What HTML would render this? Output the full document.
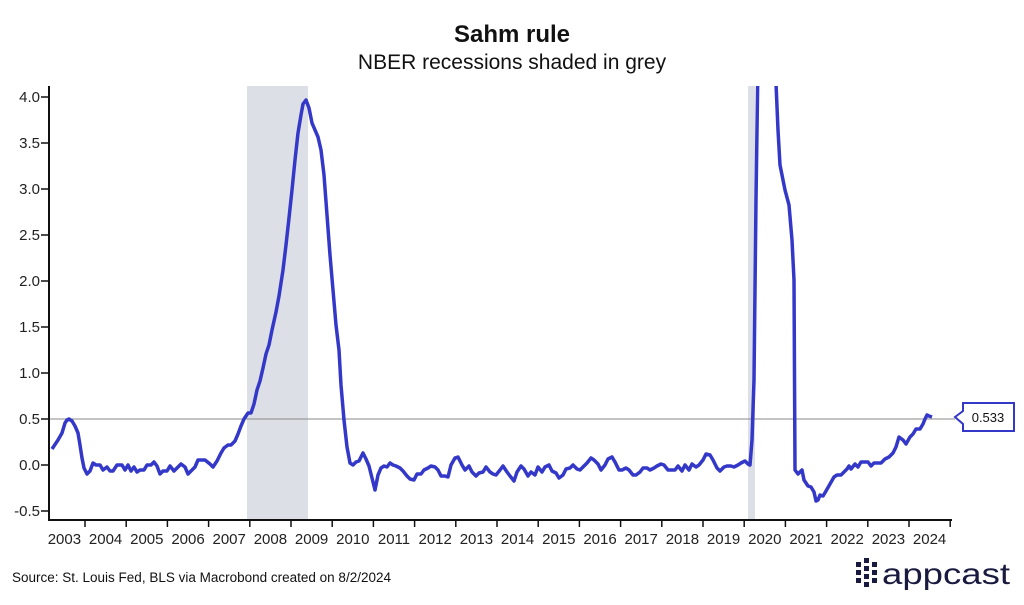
<!DOCTYPE html>
<html><head><meta charset="utf-8"><style>
body{margin:0;background:#fff;width:1024px;height:600px;overflow:hidden;font-family:"Liberation Sans",sans-serif;}
</style></head><body>
<svg width="1024" height="600" viewBox="0 0 1024 600" xmlns="http://www.w3.org/2000/svg" font-family="Liberation Sans, sans-serif">
<text x="512" y="42" text-anchor="middle" font-size="24" font-weight="bold" fill="#111">Sahm rule</text>
<text x="512" y="69" text-anchor="middle" font-size="21" fill="#111">NBER recessions shaded in grey</text>
<rect x="247" y="86" width="61" height="434" fill="#dcdfe6"/>
<rect x="748" y="86" width="7" height="434" fill="#dcdfe6"/>
<line x1="50" y1="419" x2="955" y2="419" stroke="#888" stroke-width="1"/>
<g font-size="15" fill="#222" text-anchor="end">
<text x="40" y="102">4.0</text><text x="40" y="148">3.5</text><text x="40" y="194">3.0</text><text x="40" y="240">2.5</text><text x="40" y="286">2.0</text><text x="40" y="332">1.5</text><text x="40" y="378">1.0</text><text x="40" y="424">0.5</text><text x="40" y="470">0.0</text><text x="40" y="516">-0.5</text>
</g>
<g stroke="#111" stroke-width="1.5">
<line x1="41" y1="97" x2="49" y2="97"/><line x1="41" y1="143" x2="49" y2="143"/><line x1="41" y1="189" x2="49" y2="189"/><line x1="41" y1="235" x2="49" y2="235"/><line x1="41" y1="281" x2="49" y2="281"/><line x1="41" y1="327" x2="49" y2="327"/><line x1="41" y1="373" x2="49" y2="373"/><line x1="41" y1="419" x2="49" y2="419"/><line x1="41" y1="465" x2="49" y2="465"/><line x1="41" y1="511" x2="49" y2="511"/>
</g>
<line x1="49" y1="86" x2="49" y2="521" stroke="#111" stroke-width="2"/>
<line x1="48" y1="520" x2="952" y2="520" stroke="#111" stroke-width="2"/>
<g id="ticks" stroke="#111" stroke-width="1.5"></g>
<g id="yl" font-size="15" fill="#222" text-anchor="middle"></g>
<clipPath id="c"><rect x="49" y="86" width="910" height="434"/></clipPath>
<polyline clip-path="url(#c)" fill="none" stroke="#3438c8" stroke-width="3.5" stroke-linejoin="round" points="52,449 58,440 62,433 65,423 67,420 69,419 72,421 75,426 78,433 80,445 82,458 84,468 87,474 90,471 93,463 96,465 100,465 103,470 107,467 110,471 113,471 117,465 122,465 125,470 128,465 131,471 134,467 137,472 140,470 144,470 147,465 151,465 154,462 157,466 160,474 163,471 167,471 170,466 174,471 177,468 181,464 185,467 188,474 192,470 195,467 198,460 205,460 210,464 213,467 217,461 221,453 224,448 228,445 231,445 235,441 238,434 241,426 244,419 248,413 251,413 254,404 257,390 260,381 263,368 266,354 269,345 272,330 276,312 279,296 283,270 286,245 289,218 292,190 295,160 298,133 301,115 303,104 306,100 309,108 312,123 315,130 318,137 321,150 324,175 327,215 330,255 333,290 336,325 339,350 341,385 344,420 347,447 350,463 353,465 356,462 359,461 363,453 366,459 369,466 372,478 375,490 378,475 381,468 384,466 387,467 390,463 393,465 396,466 400,468 403,471 407,476 410,479 414,480 417,474 421,474 424,470 428,468 431,466 435,467 438,470 441,476 445,476 448,477 451,465 455,458 458,457 462,465 465,470 469,466 472,472 476,476 479,473 483,472 486,467 490,472 493,474 496,475 500,470 503,466 507,472 510,476 514,481 517,472 521,466 524,469 528,476 531,472 535,475 538,467 542,472 545,467 549,465 552,471 556,473 559,478 563,475 566,469 570,468 573,465 577,469 580,470 584,466 587,463 591,458 594,460 598,464 601,470 605,465 608,459 612,457 615,462 619,470 622,470 626,468 629,470 633,475 636,475 640,472 643,468 647,468 650,470 654,468 657,466 661,464 664,465 668,470 671,470 675,470 678,466 682,471 685,465 689,470 692,464 696,467 699,465 703,460 706,454 710,455 713,460 717,468 720,471 724,467 727,466 731,466 734,467 738,465 741,463 745,461 748,464 750,465 752,440 754,380 756,200 758,60 775,60 778,130 780,165 782,175 785,190 789,205 792,240 794,280 795,470 798,474 802,470 804,480 808,486 811,487 814,492 816,501 818,500 820,495 823,496 826,491 830,484 834,477 837,475 841,475 844,472 847,469 849,466 851,469 855,464 858,467 861,462 864,462 868,462 871,466 874,463 878,463 881,463 885,459 889,457 893,453 896,447 899,437 903,440 906,444 910,437 913,434 916,429 920,429 923,424 925,419 927,415 929,416 932,417"/>
<path d="M963,403 H1014 V431 H963 V424 L955,417 L963,411 Z" fill="#fff" stroke="#3438c8" stroke-width="2"/>
<text x="988" y="422" text-anchor="middle" font-size="13" fill="#111">0.533</text>
<text x="12" y="582" font-size="13.5" fill="#111">Source: St. Louis Fed, BLS via Macrobond created on 8/2/2024</text>
<g fill="#1a1a40">
<rect x="856" y="562" width="5" height="5"/><rect x="856" y="570" width="5" height="5"/><rect x="856" y="578" width="5" height="5"/>
<rect x="864" y="558" width="5" height="5"/><rect x="864" y="566" width="5" height="5"/><rect x="864" y="574" width="5" height="5"/><rect x="864" y="582" width="5" height="5"/>
<rect x="872" y="562" width="5" height="5"/><rect x="872" y="570" width="5" height="5"/><rect x="872" y="578" width="5" height="5"/>
</g>
<text x="882" y="584" font-size="30" fill="#1a1a40" textLength="128" lengthAdjust="spacingAndGlyphs">appcast</text>
</svg>
<script>
var t=document.getElementById('ticks'),l=document.getElementById('yl'),ns='http://www.w3.org/2000/svg';
for(var k=0;k<=21;k++){var x=85+k*41.2;var e=document.createElementNS(ns,'line');e.setAttribute('x1',x);e.setAttribute('x2',x);e.setAttribute('y1',520);e.setAttribute('y2',527);t.appendChild(e);}
for(var k=0;k<22;k++){var x=64.4+k*41.2;var e=document.createElementNS(ns,'text');e.setAttribute('x',x);e.setAttribute('y',544);e.textContent=2003+k;l.appendChild(e);}
</script>
</body></html>
